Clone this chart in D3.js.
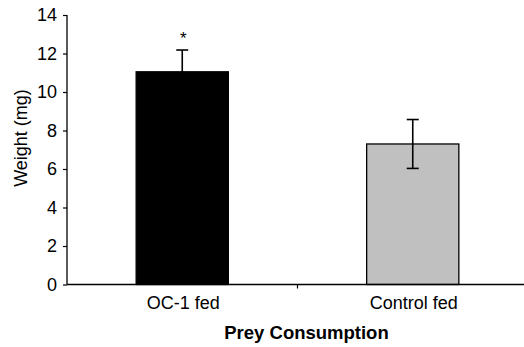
<!DOCTYPE html>
<html>
<head>
<meta charset="utf-8">
<script src="https://cdn.jsdelivr.net/npm/d3@7"></script>
<style>
  html, body { margin: 0; padding: 0; background: #fff; }
  svg { display: block; font-family: "Liberation Sans", Arial, sans-serif; }
</style>
</head>
<body>
<svg id="chart" width="524" height="347"></svg>
<script>
// Mean prey weight per feeding group, with standard error
const categories = ["OC-1 fed", "Control fed"];
const means = [11.05, 7.3];
const errors = [1.13, 1.27];
const fills = ["#000000", "#c0c0c0"];
const significance = ["*", ""];
const yTicks = [0, 2, 4, 6, 8, 10, 12, 14];

const svg = d3.select("#chart");
const x0 = 67, x1 = 528, yTop = 15, yBottom = 284.5;

const x = d3.scaleBand().domain(categories).range([x0, x1]).padding(0);
const y = d3.scaleLinear().domain([0, 14]).range([yBottom, yTop]);
const barW = x.bandwidth() * 0.4;

// y axis
const yAxis = svg.append("g")
  .attr("transform", `translate(${x0},0)`)
  .call(d3.axisLeft(y).tickValues(yTicks).tickSize(4).tickPadding(6).tickFormat(d3.format("d")));
yAxis.select(".domain").attr("stroke", "#000").attr("stroke-width", 1.3).attr("d", `M0,${yTop}V${yBottom}`);
yAxis.selectAll(".tick line").attr("stroke", "#000").attr("stroke-width", 1.2);
yAxis.selectAll(".tick text").attr("font-size", 18).attr("fill", "#000")
  .attr("font-family", "Liberation Sans, Arial, sans-serif");

// bars
const bars = svg.append("g");
bars.selectAll("rect").data(categories).join("rect")
  .attr("x", d => x(d) + (x.bandwidth() - barW) / 2)
  .attr("width", barW)
  .attr("y", (d, i) => y(means[i]))
  .attr("height", (d, i) => y(0) - y(means[i]))
  .attr("fill", (d, i) => fills[i])
  .attr("stroke", "#000")
  .attr("stroke-width", 1.3);

// error bars
const eb = svg.append("g").attr("stroke", "#000").attr("stroke-width", 1.6);
categories.forEach((c, i) => {
  const cx = x(c) + x.bandwidth() / 2;
  const hi = y(means[i] + errors[i]);
  const lo = y(means[i] - errors[i]);
  eb.append("line").attr("x1", cx).attr("x2", cx).attr("y1", hi).attr("y2", lo);
  eb.append("line").attr("x1", cx - 6).attr("x2", cx + 6).attr("y1", hi).attr("y2", hi);
  eb.append("line").attr("x1", cx - 6).attr("x2", cx + 6).attr("y1", lo).attr("y2", lo);
  if (significance[i]) {
    svg.append("text")
      .attr("x", cx + 1).attr("y", hi - 6)
      .attr("text-anchor", "middle")
      .attr("font-size", 17)
      .text(significance[i]);
  }
});

// x axis line and category divider ticks
svg.append("line")
  .attr("x1", x0).attr("x2", x1).attr("y1", yBottom).attr("y2", yBottom)
  .attr("stroke", "#000").attr("stroke-width", 1.3);
categories.slice(1).forEach(c => {
  svg.append("line")
    .attr("x1", x(c)).attr("x2", x(c)).attr("y1", yBottom).attr("y2", yBottom + 4)
    .attr("stroke", "#000").attr("stroke-width", 1.2);
});

// category labels
svg.append("g").selectAll("text").data(categories).join("text")
  .attr("x", d => x(d) + x.bandwidth() / 2 + 1)
  .attr("y", 309)
  .attr("text-anchor", "middle")
  .attr("font-size", 18)
  .text(d => d);

// axis titles
svg.append("text")
  .attr("x", 306.5).attr("y", 339)
  .attr("text-anchor", "middle")
  .attr("font-size", 18.5)
  .attr("font-weight", "bold")
  .text("Prey Consumption");

svg.append("text")
  .attr("transform", "translate(27,138) rotate(-90)")
  .attr("text-anchor", "middle")
  .attr("font-size", 18)
  .text("Weight (mg)");
</script>
</body>
</html>
